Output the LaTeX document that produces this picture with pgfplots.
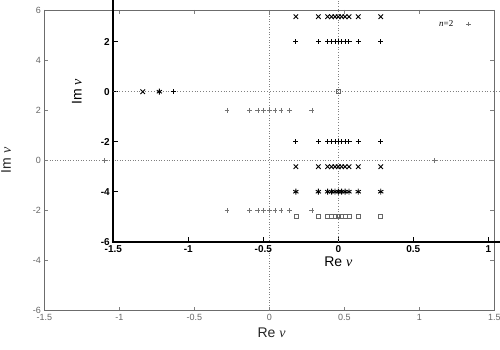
\documentclass[border=0pt]{standalone}
\usepackage{fontspec}
\setmainfont{Liberation Sans}
\newfontfamily\serif{Liberation Serif}
\usepackage{pgfplots}
\pgfplotsset{compat=1.18}

\newcommand{\nuv}{{\serif\itshape ν}}

% outer plot: n=2 only
\pgfplotstableread{
re      im
-0.283  2
-0.133  2
-0.077  2
-0.038  2
0       2
0.038   2
0.077   2
0.133   2
0.283   2
-0.283  -2
-0.133  -2
-0.077  -2
-0.038  -2
0       -2
0.038   -2
0.077   -2
0.133   -2
0.283   -2
-1.1    0
1.1     0
}\outerpts

\begin{document}
\begin{tikzpicture}
\useasboundingbox (0,0) rectangle (500pt,350pt);
\clip (0,0) rectangle (500pt,350pt);

\begin{axis}[
  at={(44.3pt,39.3pt)}, anchor=south west,
  scale only axis, width=450pt, height=300.7pt,
  xmin=-1.5, xmax=1.5, ymin=-6, ymax=6,
  xtick={-1.5,-1,...,1.5}, ytick={-6,-4,...,6},
  axis line style={gray!85!black, line width=0.9pt},
  tick style={gray, line width=0.6pt},
  major tick length=4pt,
  /pgf/number format/assume math mode=true,
  ticklabel style={font=\fontsize{9}{10}\selectfont, text=gray!80!black},
  xlabel={Re \nuv}, ylabel={Im \nuv},
  label style={font=\fontsize{14}{16}\selectfont, text=black!85},
  xlabel style={at={(axis description cs:0.505,-0.073)}, anchor=center},
  ylabel style={at={(axis description cs:-0.085,0.5)}, anchor=center},
  legend style={draw=none, fill=none, at={(axis description cs:0.955,0.98)},
    anchor=north east, font=\fontsize{9}{10}\selectfont},
  legend plot pos=right,
]
\draw[gray, dotted, line width=0.6pt] (axis cs:0,-6) -- (axis cs:0,6);
\draw[gray, dotted, line width=0.6pt] (axis cs:-1.5,0) -- (axis cs:1.5,0);
\addplot[only marks, mark=+, mark size=2.3pt, gray!90!black, line width=0.5pt]
  table[x=re, y=im] {\outerpts};
\addlegendentry{{\serif\itshape n}{\serif =2}\rule{11pt}{0pt}}
\end{axis}

\begin{axis}[
  at={(113.3pt,108.3pt)}, anchor=south west,
  scale only axis, width=450pt, height=300pt,
  xmin=-1.5, xmax=1.5, ymin=-6, ymax=6,
  xtick={-1.5,-1,...,1.5}, ytick={-6,-4,...,6},
  axis line style={black, line width=1.8pt},
  tick style={black, line width=0.8pt},
  major tick length=4.5pt,
  /pgf/number format/assume math mode=true,
  ticklabel style={font=\fontsize{10}{11}\selectfont\bfseries, text=black},
  xlabel={Re \nuv}, ylabel={Im \nuv},
  label style={font=\fontsize{14}{16}\selectfont, text=black},
  xlabel style={at={(axis description cs:0.5,-0.068)}, anchor=center},
  ylabel style={at={(axis description cs:-0.081,0.5)}, anchor=center},
]
\draw[gray, dotted, line width=0.7pt] (axis cs:0,-6) -- (axis cs:0,6);
\draw[gray, dotted, line width=0.9pt] (axis cs:-1.5,0) -- (axis cs:1.5,0);
% n=2
\addplot[only marks, mark=+, mark size=2.6pt, black, line width=1pt] coordinates {
(-0.283,2) (-0.133,2) (-0.071,2) (-0.045,2) (-0.022,2) (0,2) (0.022,2) (0.045,2) (0.071,2) (0.133,2) (0.283,2)
(-0.283,-2) (-0.133,-2) (-0.071,-2) (-0.045,-2) (-0.022,-2) (0,-2) (0.022,-2) (0.045,-2) (0.071,-2) (0.133,-2) (0.283,-2)
(-1.1,0)
};
% n=3
\addplot[only marks, mark=x, mark size=3.2pt, black, line width=0.9pt] coordinates {
(-0.283,3) (-0.133,3) (-0.071,3) (-0.045,3) (-0.022,3) (0,3) (0.022,3) (0.045,3) (0.071,3) (0.133,3) (0.283,3)
(-0.283,-3) (-0.133,-3) (-0.071,-3) (-0.045,-3) (-0.022,-3) (0,-3) (0.022,-3) (0.045,-3) (0.071,-3) (0.133,-3) (0.283,-3)
(-1.304,0)
};
% n=4
\addplot[only marks, mark=asterisk, mark size=3pt, black, line width=0.9pt] coordinates {
(-0.283,4) (-0.133,4) (-0.071,4) (-0.045,4) (-0.022,4) (0,4) (0.022,4) (0.045,4) (0.071,4) (0.133,4) (0.283,4)
(-0.283,-4) (-0.133,-4) (-0.071,-4) (-0.045,-4) (-0.022,-4) (0,-4) (0.022,-4) (0.045,-4) (0.071,-4) (0.133,-4) (0.283,-4)
(-1.193,0)
};
% n=5
\addplot[only marks, mark=square, mark size=2pt, gray!80!black, line width=0.7pt] coordinates {
(-0.283,-5) (-0.133,-5) (-0.071,-5) (-0.045,-5) (-0.022,-5) (0,-5) (0.022,-5) (0.045,-5) (0.071,-5) (0.133,-5) (0.283,-5)
(0,0)
};
\end{axis}
\end{tikzpicture}
\end{document}
